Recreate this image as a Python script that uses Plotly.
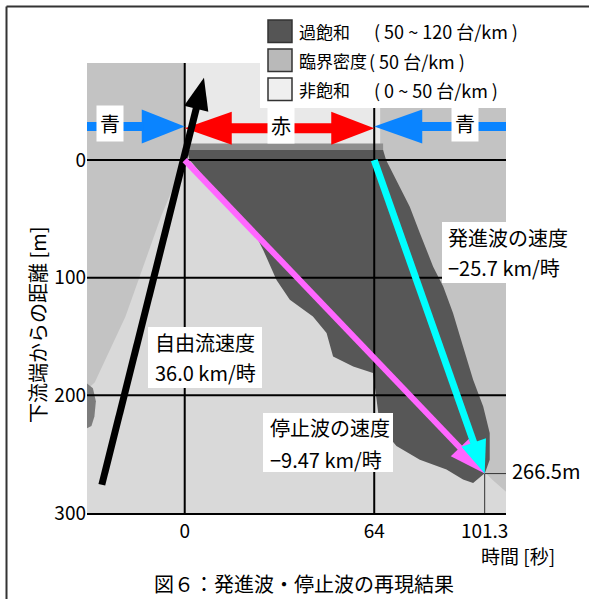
import plotly.graph_objects as go

FONT = "Noto Sans CJK JP"

# ---------------- data ----------------
T_RANGE = [-33, 108.5]          # time [s]
D_RANGE = [300, -82.5]          # distance [m] (reversed)
X_TICKS = [0, 64, 101.3]
X_TICK_TEXT = ["0", "64", "101.3"]
Y_TICKS = [0, 100, 200, 300]
Y_TICK_TEXT = ["0", "100", "200", "300"]
H_GRID = [0, 100, 200]
V_GRID = [0, 64]

# congested (dark) region outline
DARK_T = [0.6, 67, 68, 71.5, 76, 79.4, 83.9, 87.3, 90.6, 94, 97.4, 100.8, 103, 103,
          101.4, 97.4, 94, 88.4, 79.4, 71.5, 65.9, 64.8, 63.6, 56.9, 50.1, 47.9, 43.3,
          35.5, 31, 26.5, 24.2, 18.6, 12.9, 7.3, 1.7]
DARK_D = [-8.5, -8.5, 0, 17, 39.6, 62, 90.6, 107.5, 130, 158.5, 186.8, 209.4, 232, 254.7,
          266, 274.5, 271.6, 263, 254.7, 243, 226, 203.7, 181, 175.5, 167, 147, 133,
          118.8, 101.9, 76.4, 65, 51, 34, 17, 0]
# blurred upper edge of the congested region
EDGE_T = [0.5, 67, 67, 0.5]
EDGE_D = [-14, -14, -8, -8]
# uncongested (light) regions
LIGHT_TOP_T = [0, 66, 66, 0]
LIGHT_TOP_D = [-83, -83, -10, -10]
LIGHT_LOW_T = [0, -8, -20, -30.4, -33, -33, 108.5, 108.5, 104, 100, 60, 20]
LIGHT_LOW_D = [0, 48, 133, 189, 195, 300, 300, 282, 272, 262, 140, 20]
# small dense spot at the left edge
SPOT_T = [-33, -31, -30, -30.5, -31.5, -33]
SPOT_D = [190, 194, 205, 218, 226, 228]

# wave lines (start, end)
FREE_T = [-28.0, 6.5]
FREE_D = [276, -70]
STOP_T = [0, 101.3]
STOP_D = [0, 266.5]
START_T = [64, 101.3]
START_D = [0, 266.5]
END_POINT = (101.3, 266.5)

# signal phases
BLUE_D = -28.5
RED_D = -27.0
BLUE_L_T = [-34, 0]
RED_T = [0, 64]
BLUE_R_T = [112, 64]

# ---------------- layout geometry ----------------
W, H = 589, 599
PW, PH = 419, 450
ML, MT = 87, 63
MR, MB = W - ML - PW, H - MT - PH
SX = PW / (T_RANGE[1] - T_RANGE[0])      # px per second
SY = PH / (D_RANGE[0] - D_RANGE[1])      # px per metre


def paper(px, py):
    """figure pixel -> paper coordinates"""
    return (px - ML) / PW, (MT + PH - py) / PH


fig = go.Figure()


def poly(t, d, color):
    fig.add_trace(go.Scatter(x=t + [t[0]], y=d + [d[0]], mode="lines", fill="toself",
                             fillcolor=color, line=dict(width=0), hoverinfo="skip",
                             showlegend=False))


def line(t, d, color, width):
    fig.add_trace(go.Scatter(x=t, y=d, mode="lines", line=dict(color=color, width=width),
                             hoverinfo="skip", showlegend=False))


def head(t0, d0, t1, d1, color, hl, hw):
    dx, dy = (t1 - t0) * SX, (d1 - d0) * SY
    L = (dx * dx + dy * dy) ** 0.5
    ux, uy = dx / L, dy / L
    nx, ny = -uy, ux
    bx, by = -hl * ux, -hl * uy
    tt = [t1, t1 + (bx + hw * nx) / SX, t1 + (bx - hw * nx) / SX]
    dd = [d1, d1 + (by + hw * ny) / SY, d1 + (by - hw * ny) / SY]
    poly(tt, dd, color)
    return t1 + (bx + 2 * ux) / SX, d1 + (by + 2 * uy) / SY


def arrow(t, d, color, lw, hl, hw):
    bt, bd = head(t[0], d[0], t[1], d[1], color, hl, hw)
    line([t[0], bt], [d[0], bd], color, lw)


# background regions
poly(LIGHT_TOP_T, LIGHT_TOP_D, "#e9e9e9")
poly(LIGHT_LOW_T, LIGHT_LOW_D, "#d9d9d9")
poly(SPOT_T, SPOT_D, "#7c7c7c")
poly(EDGE_T, EDGE_D, "#8e8e8e")
poly(DARK_T, DARK_D, "#575757")

# grid
for g in H_GRID:
    line(T_RANGE, [g, g], "black", 2)
for g in V_GRID:
    line([g, g], [D_RANGE[1], D_RANGE[0]], "black", 2)
line([END_POINT[0], END_POINT[0], T_RANGE[1] + 1], [D_RANGE[0], END_POINT[1], END_POINT[1]],
     "#333333", 1)

# signal arrows
arrow(BLUE_L_T, [BLUE_D, BLUE_D], "#0a84ff", 9, 43, 17)
arrow(BLUE_R_T, [BLUE_D, BLUE_D], "#0a84ff", 9, 48, 17)
bl_t, _ = head(RED_T[1], RED_D, RED_T[0], RED_D, "#ff0000", 47, 16.5)
br_t, _ = head(RED_T[0], RED_D, RED_T[1], RED_D, "#ff0000", 43, 16.5)
line([bl_t, br_t], [RED_D, RED_D], "#ff0000", 10)

# wave arrows
arrow(FREE_T, FREE_D, "black", 7, 32, 12.5)
arrow(STOP_T, STOP_D, "#ff66ff", 6, 36, 12.5)
arrow(START_T, START_D, "#00ffff", 7, 33, 13)

shapes = []
annotations = []


def rect(x0, y0, x1, y1, fill, lc=None, lw=0):
    a0, b0 = paper(x0, y0)
    a1, b1 = paper(x1, y1)
    shapes.append(dict(type="rect", xref="paper", yref="paper", x0=a0, y0=b1, x1=a1, y1=b0,
                       fillcolor=fill, line=dict(color=lc or fill, width=lw), layer="above"))


def text(px, py, s, size=20, xanchor="center", angle=0):
    a, b = paper(px, py)
    annotations.append(dict(xref="paper", yref="paper", x=a, y=b, text=s, showarrow=False,
                            xanchor=xanchor, yanchor="middle", textangle=angle,
                            font=dict(size=size, color="black", family=FONT)))


# legend
rect(260, 0, 545, 108, "white")
LEG_COLORS = ["#555555", "#b9b9b9", "#efefef"]
LEG_NAMES = ["過飽和", "臨界密度", "非飽和"]
LEG_RANGES = ["( 50 ~ 120 台/km )", "( 50 台/km )", "( 0 ~ 50 台/km )"]
LEG_RANGE_X = [372, 367, 372]
for i, (c, n, r) in enumerate(zip(LEG_COLORS, LEG_NAMES, LEG_RANGES)):
    top = 20 + i * 29
    rect(268, top, 292, top + 22.5, c, "#333333", 1.5)
    text(297, top + 11.5, n, 17, "left")
    text(LEG_RANGE_X[i], top + 11.5, r, 18, "left")

# frame
fx, fy = paper(6.5, 6.5)
fxe, fye = paper(600, 610)
shapes.append(dict(type="line", xref="paper", yref="paper", x0=fx, y0=fye, x1=fx, y1=fy,
                   line=dict(color="#333333", width=2), layer="above"))
shapes.append(dict(type="line", xref="paper", yref="paper", x0=fx, y0=fy, x1=fxe, y1=fy,
                   line=dict(color="#333333", width=2), layer="above"))

# signal labels
for t, dd, txt in [(-25.3, BLUE_D, "青"), (32.5, RED_D, "赤"), (94.6, BLUE_D, "青")]:
    annotations.append(dict(x=t, y=dd - 2.5, text=txt, showarrow=False, bgcolor="white",
                            borderpad=3, xanchor="center", yanchor="middle",
                            font=dict(size=20, color="black", family=FONT)))

# wave labels (white boxes + two text lines)
rect(148, 327, 262, 388, "white")
text(205, 342, "自由流速度")
text(205, 372, "36.0 km/時")
rect(263, 413, 393, 472, "white")
text(268, 427.5, "停止波の速度", 20, "left")
text(268, 459.5, "−9.47 km/時", 20, "left")
rect(442, 222, 572, 283, "white")
text(446, 237.5, "発進波の速度", 20, "left")
text(446, 267, "−25.7 km/時", 20, "left")
text(510, 470.5, "266.5m", 20, "left")

# axis titles & caption
text(518, 555, "時間 [秒]", 19)
text(37, 325, "下流端からの距離 [m]", 20, angle=-90)
text(304, 583, "図６：発進波・停止波の再現結果", 20)

fig.update_layout(
    width=W, height=H,
    margin=dict(l=ML, r=MR, t=MT, b=MB, pad=0),
    paper_bgcolor="white", plot_bgcolor="#c3c3c3",
    showlegend=False,
    font=dict(family=FONT, size=19, color="black"),
    shapes=shapes, annotations=annotations,
    xaxis=dict(range=T_RANGE, tickvals=X_TICKS, ticktext=X_TICK_TEXT, showgrid=False,
               zeroline=False, showline=True, linecolor="black", linewidth=2, ticks="",
               tickfont=dict(size=19, family=FONT), fixedrange=True),
    yaxis=dict(range=D_RANGE, tickvals=Y_TICKS, ticktext=Y_TICK_TEXT, showgrid=False,
               zeroline=False, showline=False, ticks="",
               tickfont=dict(size=19, family=FONT), fixedrange=True),
)

fig.write_html("out.html", config={"displayModeBar": False},
               post_script="document.body.style.margin='0px';")
